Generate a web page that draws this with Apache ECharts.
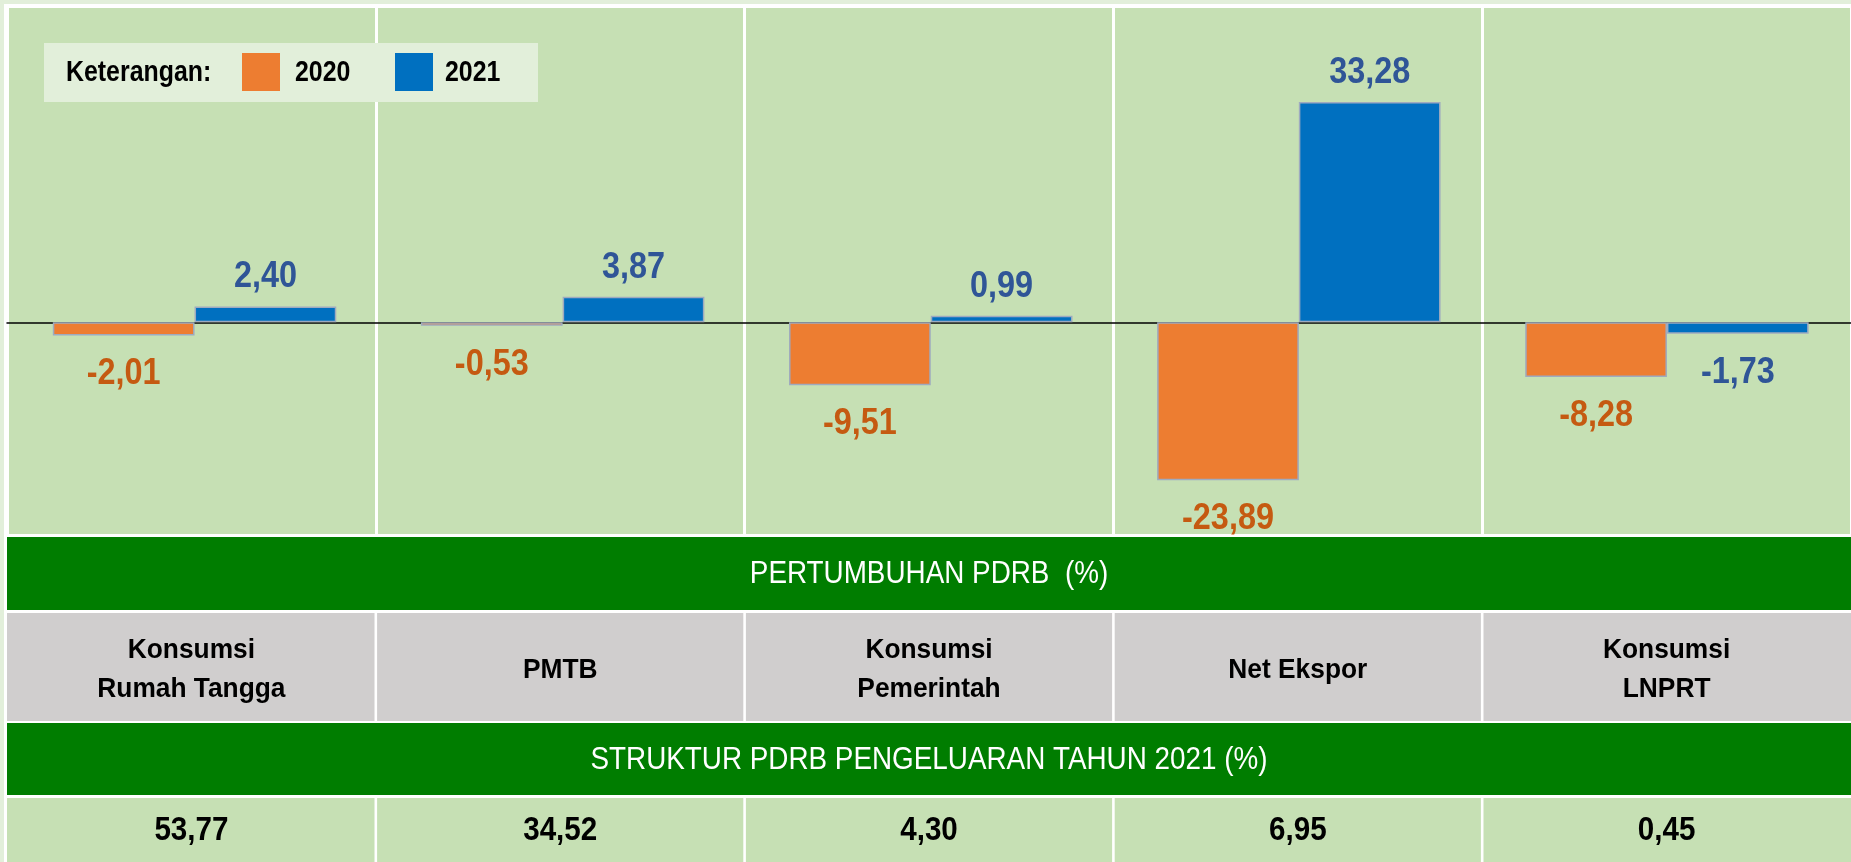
<!DOCTYPE html>
<html>
<head>
<meta charset="utf-8">
<title>Pertumbuhan PDRB</title>
<script src="https://cdn.jsdelivr.net/npm/echarts@6/dist/echarts.min.js"></script>
<style>
  html, body { margin: 0; padding: 0; background: #e2efda; }
  #chart { width: 1851px; height: 862px; }
</style>
</head>
<body>
<div id="chart"></div>
<script>
// Komponen pengeluaran
const categories = ['Konsumsi\nRumah Tangga', 'PMTB', 'Konsumsi\nPemerintah', 'Net Ekspor', 'Konsumsi\nLNPRT'];
// Pertumbuhan PDRB (%)
const growth2020 = [-2.01, -0.53, -9.51, -23.89, -8.28];
const growth2021 = [2.40, 3.87, 0.99, 33.28, -1.73];
// Struktur PDRB pengeluaran tahun 2021 (%)
const structure2021 = [53.77, 34.52, 4.30, 6.95, 0.45];
const seriesNames = ['2020', '2021'];
const legendTitle = 'Keterangan:';
const band1Title = 'PERTUMBUHAN PDRB  (%)';
const band2Title = 'STRUKTUR PDRB PENGELUARAN TAHUN 2021 (%)';

// Arial-metric face, narrowed with a horizontal scale
const SANS = '"Liberation Sans", Arimo, Arial, sans-serif';
const fmt = v => v.toFixed(2).replace('.', ',');

const COLORS = { y2020: '#ed7d31', y2021: '#0070c0', lab2020: '#c55a11', lab2021: '#2f5597' };
const Y_RANGE = { min: -32, max: 47.5 };
// panel grid (background, column lines, zero line) and a slightly shifted grid for the bars
const GRID = { left: 7, right: -2, top: 8, bottom: 328 };
const BAR_GRID = { left: 10.5, right: -5.5, top: 8, bottom: 328 };
const CAT_GAP = 0.23;

// value labels at the end of each bar, positioned through the bar axes
function labelSeries(values, side, color) {
  return {
    type: 'custom',
    silent: true,
    z: 5,
    xAxisIndex: 1, yAxisIndex: 1,
    data: values.map((v, i) => [i, v]),
    encode: { x: 0, y: 1 },
    renderItem: (params, api) => {
      const i = api.value(0);
      const v = api.value(1);
      const p = api.coord([i, v]);
      const band = api.size([1, 0])[0];
      const bw = band * (1 - CAT_GAP) / 2;
      return {
        type: 'text',
        x: p[0] + side * bw / 2,
        y: v >= 0 ? p[1] - 29 : p[1] + 39,
        scaleX: 0.9,
        style: {
          text: fmt(v), font: 'bold 36px ' + SANS, fill: color,
          align: 'center', verticalAlign: 'middle'
        }
      };
    }
  };
}

const chart = echarts.init(document.getElementById('chart'), null, { renderer: 'canvas' });

chart.setOption({
  backgroundColor: '#e2efda',
  animation: false,
  grid: [
    Object.assign({ show: true, backgroundColor: '#c6e0b4', borderWidth: 0 }, GRID),
    Object.assign({ show: false }, BAR_GRID)
  ],
  xAxis: [
    {
      gridIndex: 0, type: 'category', data: categories,
      axisLine: { onZero: true, lineStyle: { color: '#000', width: 1.5 } },
      axisTick: { show: false }, axisLabel: { show: false },
      splitLine: { show: true, interval: 0, lineStyle: { color: '#ffffff', width: 3 } }
    },
    {
      gridIndex: 1, type: 'category', data: categories, show: false
    }
  ],
  yAxis: [
    { gridIndex: 0, type: 'value', min: Y_RANGE.min, max: Y_RANGE.max, show: false, splitLine: { show: false } },
    { gridIndex: 1, type: 'value', min: Y_RANGE.min, max: Y_RANGE.max, show: false, splitLine: { show: false } }
  ],
  series: [
    {
      name: seriesNames[0], type: 'bar', data: growth2020, xAxisIndex: 1, yAxisIndex: 1,
      barGap: '0%', barCategoryGap: (CAT_GAP * 100) + '%',
      itemStyle: { color: COLORS.y2020, borderColor: '#9eaabf', borderWidth: 1.5 }
    },
    {
      name: seriesNames[1], type: 'bar', data: growth2021, xAxisIndex: 1, yAxisIndex: 1,
      barGap: '0%', barCategoryGap: (CAT_GAP * 100) + '%',
      itemStyle: { color: COLORS.y2021, borderColor: '#9eaabf', borderWidth: 1.5 }
    },
    labelSeries(growth2020, -1, COLORS.lab2020),
    labelSeries(growth2021, 1, COLORS.lab2021)
  ]
});

// Legend box and the table under the chart, aligned to the panel's category bands
const W = 1851, H = 862;
const colW = (W - GRID.left - GRID.right) / categories.length;
const rows = {
  band1: [537, 610],
  names: [613, 721],
  band2: [723, 795],
  values: [798, 862]
};

const graphics = [];
graphics.push({ type: 'rect', z: -10, silent: true, shape: { x: 4, y: 4, width: W, height: H }, style: { fill: '#ffffff' } });

// legend
graphics.push({ type: 'rect', z: 1, silent: true, shape: { x: 44, y: 43, width: 494, height: 59 }, style: { fill: '#e2efda' } });
function legendText(x, text) {
  graphics.push({ type: 'text', z: 2, silent: true, x: x, y: 73, scaleX: 0.83, style: {
    text: text, font: 'bold 30px ' + SANS, fill: '#000', verticalAlign: 'middle', align: 'left' } });
}
legendText(66, legendTitle);
graphics.push({ type: 'rect', z: 2, silent: true, shape: { x: 242, y: 53, width: 38, height: 38 }, style: { fill: COLORS.y2020 } });
legendText(295, seriesNames[0]);
graphics.push({ type: 'rect', z: 2, silent: true, shape: { x: 395, y: 53, width: 38, height: 38 }, style: { fill: COLORS.y2021 } });
legendText(445, seriesNames[1]);

function band(y0, y1, title) {
  graphics.push({ type: 'rect', silent: true, shape: { x: GRID.left, y: y0, width: W - GRID.left, height: y1 - y0 }, style: { fill: '#007d00' } });
  graphics.push({ type: 'text', silent: true, x: (GRID.left + W) / 2, y: (y0 + y1) / 2 + 1, scaleX: 0.87, style: {
    text: title, font: '32px ' + SANS, fill: '#ffffff', align: 'center', verticalAlign: 'middle' } });
}
function cellRow(y0, y1, fill, texts, font, lineHeight, sx, dy) {
  texts.forEach((t, i) => {
    const cx = chart.convertToPixel({ xAxisIndex: 0 }, i);
    const x0 = Math.max(cx - colW / 2, GRID.left) + (i > 0 ? 1.5 : 0);
    const x1 = Math.min(cx + colW / 2, W) - (i < texts.length - 1 ? 1.5 : 0);
    graphics.push({ type: 'rect', silent: true, shape: { x: x0, y: y0, width: x1 - x0, height: y1 - y0 }, style: { fill: fill } });
    graphics.push({ type: 'text', silent: true, x: cx, y: (y0 + y1) / 2 + dy, scaleX: sx, style: {
      text: t, font: font, fill: '#000', align: 'center', verticalAlign: 'middle', lineHeight: lineHeight } });
  });
}

band(rows.band1[0], rows.band1[1], band1Title);
cellRow(rows.names[0], rows.names[1], '#d0cece', categories, 'bold 28px ' + SANS, 39, 0.94, 3);
band(rows.band2[0], rows.band2[1], band2Title);
cellRow(rows.values[0], rows.values[1], '#c6e0b4', structure2021.map(fmt), 'bold 34px ' + SANS, 34, 0.87, 1);

chart.setOption({ graphic: { elements: graphics } });
</script>
</body>
</html>
